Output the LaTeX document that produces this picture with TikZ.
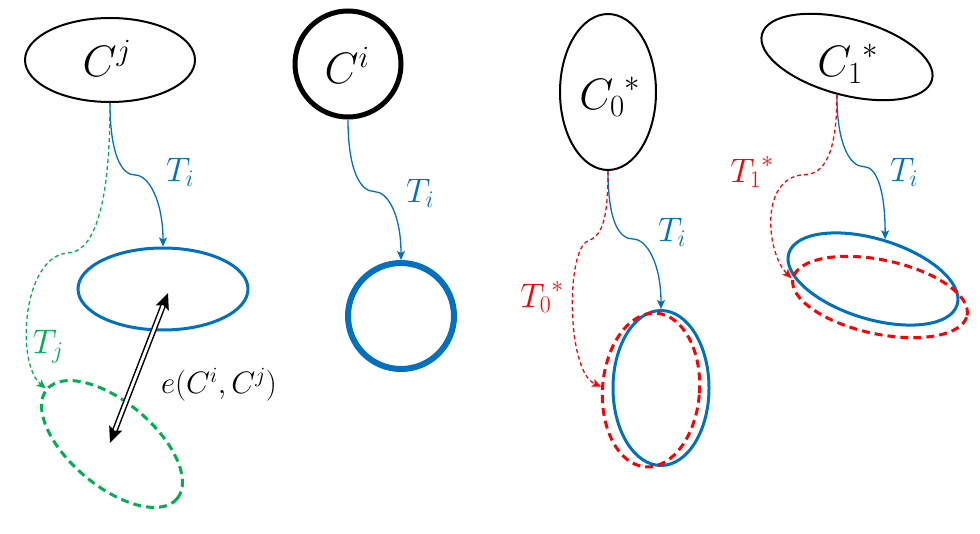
\documentclass[tikz,border=0pt]{standalone}
\usepackage{fix-cm}
\usetikzlibrary{shapes.geometric,arrows.meta}
\definecolor{ublue}{HTML}{0070C0}
\definecolor{ugreen}{HTML}{00B050}
\definecolor{ured}{HTML}{FF0000}
\begin{document}
\begin{tikzpicture}[x=1pt,y=-1pt,
  ell/.style={ellipse,draw,inner sep=0pt},
  blk/.style={ell,black,line width=2pt},
  bl/.style={ell,ublue,line width=3pt},
  grd/.style={ell,ugreen,line width=3pt,dash pattern=on 8pt off 5pt},
  rdd/.style={ell,ured,line width=3pt,dash pattern=on 8pt off 5pt},
  conn/.style={line width=1.3pt,-{Stealth[length=9pt,width=8pt,inset=2pt]}},
  tcon/.style={conn,ublue},
  dcon/.style={conn,dash pattern=on 4pt off 3pt},
  big/.style={font=\fontsize{44}{52}\selectfont,inner sep=0pt},
  lab/.style={font=\fontsize{34}{40}\selectfont,inner sep=0pt},
  elab/.style={font=\fontsize{31}{37}\selectfont,inner sep=0pt}]
\useasboundingbox (0,0) rectangle (980,534);

% top shapes
\node[blk,minimum width=170pt,minimum height=84pt] (cj) at (110,60) {};
\node[ell,line width=5pt,minimum width=106pt,minimum height=106pt] (ci) at (348,64) {};
\node[blk,minimum width=96pt,minimum height=156pt] (c0) at (608,92) {};
\node[blk,minimum width=176pt,minimum height=76pt,rotate=-15] (c1) at (847,57) {};

\node[big] (tcj) at (107,58) {$C^{j}$};
\node[big] (tci) at (347,65) {$C^{i}$};
\node[big] (tc0) at (610,97) {${C_0}^{*}$};
\node[big] (tc1) at (848,64) {${C_1}^{*}$};

% bottom shapes
\node[bl,minimum width=170pt,minimum height=82pt] (b1) at (163,289) {};
\node[grd,minimum width=170pt,minimum height=84pt,rotate=-40] (g1) at (112,444) {};
\node[ell,ublue,line width=6pt,minimum width=106pt,minimum height=106pt] (b2) at (401,316) {};
\node[bl,minimum width=96pt,minimum height=155pt] (b3) at (661,388) {};
\node[rdd,minimum width=97pt,minimum height=154pt,rotate=-4] (r3) at (651,390) {};
\node[bl,minimum width=176pt,minimum height=80pt,rotate=-17] (b4) at (873,279) {};
\node[rdd,minimum width=178pt,minimum height=74pt,rotate=-12] (r4) at (880,297) {};

% blue connectors
\draw[tcon] (cj.south) .. controls +(0,50) and +(-14,0) .. ++(25,72)
  .. controls +(14,0) and +(0,-45) .. (b1.north);
\draw[tcon] (ci.south) .. controls +(0,50) and +(-14,0) .. ++(26,72)
  .. controls +(14,0) and +(0,-45) .. (b2.north);
\draw[tcon] (c0.south) .. controls +(0,50) and +(-14,0) .. ++(25,68)
  .. controls +(14,0) and +(0,-45) .. (b3.north);
\draw[tcon] (c1.south) .. controls +(0,50) and +(-14,0) .. ++(27,72)
  .. controls +(14,0) and +(0,-45) .. (b4.north);

% green connector
\draw[dcon,ugreen] (cj.south) .. controls +(0,110) and +(25,0) .. ++(-43,150)
  .. controls +(-45,5) and +(-30,-25) .. (g1.west);
% red connectors
\draw[dcon,ured] (c0.south) .. controls +(0,55) and +(12,-5) .. ++(-20,70)
  .. controls +(-22,8) and +(-35,-15) .. (r3.west);
\draw[dcon,ured] (c1.south) .. controls +(0,60) and +(20,0) .. ++(-33,80)
  .. controls +(-45,3) and +(-25,-25) .. (r4.west);

% double arrow
\draw[line width=1.5pt,double distance=2.8pt,
  {Stealth[length=16pt,width=14pt,inset=3pt]}-{Stealth[length=16pt,width=14pt,inset=3pt]}]
  ([shift={(5,4)}]b1.center) -- ([shift={(-2,-1)}]g1.center);

% labels
\node[lab,text=ublue] (l1) at (180,172) {$T_i$};
\node[lab,text=ugreen] (l2) at (48,347) {$T_j$};
\node[elab] (l3) at (219,385) {$e(C^i,C^j)$};
\node[lab,text=ublue] (l4) at (420,193) {$T_i$};
\node[lab,text=ublue] (l5) at (672,232) {$T_i$};
\node[lab,text=ured] (l6) at (542,297) {${T_0}^{*}$};
\node[lab,text=ured] (l7) at (752,172) {${T_1}^{*}$};
\node[lab,text=ublue] (l8) at (904,172) {$T_i$};
\end{tikzpicture}
\end{document}
